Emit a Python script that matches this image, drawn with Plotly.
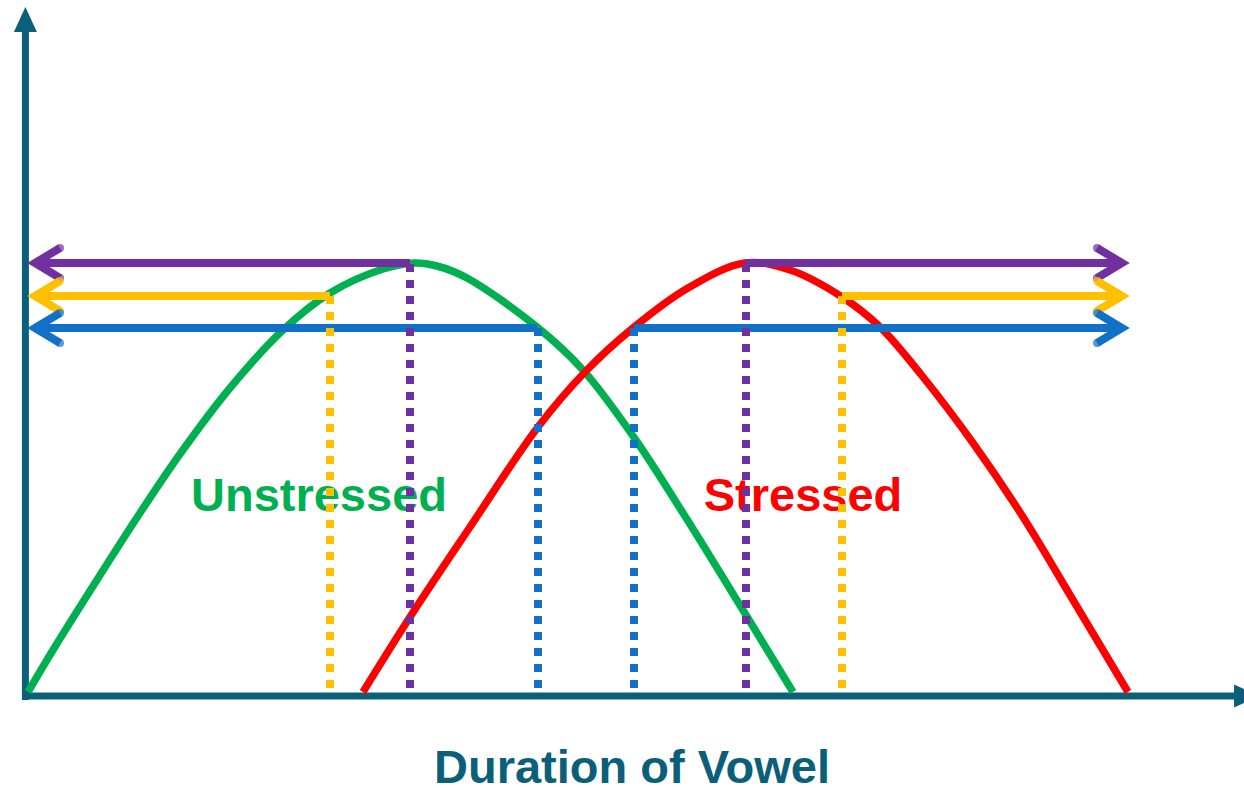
import plotly.graph_objects as go

# Data units read from the picture (1 unit ~ 1 px; x measured from the vertical axis,
# y measured from the curves' baseline)
green_x = [1, 26, 68, 111, 153, 203, 256, 303, 356, 388, 410, 440, 510, 556, 606, 656, 719, 766]
green_y = [0, 42, 109, 176, 238, 304, 362, 399, 423, 429, 426, 414, 365, 322, 256, 179, 77, 0]
red_x = [336, 383, 443, 511, 558, 606, 661, 718, 763, 815, 853, 896, 946, 996, 1046, 1101]
red_y = [0, 75, 165, 265, 320, 364, 404, 429, 422, 395, 365, 315, 249, 175, 92, 0]

arrow_names = ["purple", "yellow", "blue"]
arrow_levels = [429, 396, 364]
left_arrow_start = [383, 303, 510]
right_arrow_start = [718, 815, 607]
dotted_left_x = [383, 303, 511]
dotted_right_x = [719, 815, 607]
left_tip = 8
right_tip = 1095
arrow_colors = ["#7030A0", "#FFC000", "#1170C8"]

labels = ["Unstressed", "Stressed"]
label_x = [292, 776]
label_y = [193, 193]
label_colors = ["#00B050", "#FF0000"]

axis_title = "Duration of Vowel"
axis_color = "#0B6079"

# styling constants
AXIS_LW = 7
CURVE_LW = 7.5
ARROW_LW = 8
CHEV_DX = 25
CHEV_DY = 15
XAXIS_Y = -4
YAXIS_X = -1.6
XAXIS_END = 1208
YAXIS_END = 661
HEAD_LEN = 25
HEAD_HALF = 11.5
DOT_BASE = 4

fig = go.Figure()

# axes
fig.add_trace(go.Scatter(x=[-5, XAXIS_END], y=[XAXIS_Y, XAXIS_Y], mode="lines",
                         line=dict(color=axis_color, width=AXIS_LW), hoverinfo="skip"))
fig.add_trace(go.Scatter(x=[YAXIS_X, YAXIS_X], y=[-8, YAXIS_END], mode="lines",
                         line=dict(color=axis_color, width=AXIS_LW), hoverinfo="skip"))
fig.add_trace(go.Scatter(
    x=[XAXIS_END - 1, XAXIS_END - 1 + HEAD_LEN, XAXIS_END - 1, XAXIS_END - 1],
    y=[XAXIS_Y + HEAD_HALF, XAXIS_Y, XAXIS_Y - HEAD_HALF, XAXIS_Y + HEAD_HALF],
    mode="lines", fill="toself", fillcolor=axis_color, line=dict(color=axis_color, width=0),
    hoverinfo="skip"))
fig.add_trace(go.Scatter(
    x=[YAXIS_X - HEAD_HALF, YAXIS_X, YAXIS_X + HEAD_HALF, YAXIS_X - HEAD_HALF],
    y=[YAXIS_END - 1, YAXIS_END - 1 + HEAD_LEN, YAXIS_END - 1, YAXIS_END - 1],
    mode="lines", fill="toself", fillcolor=axis_color, line=dict(color=axis_color, width=0),
    hoverinfo="skip"))

# curves
fig.add_trace(go.Scatter(x=green_x, y=green_y, mode="lines",
                         line=dict(color="#00B050", width=CURVE_LW, shape="spline", smoothing=1),
                         hoverinfo="skip"))
fig.add_trace(go.Scatter(x=red_x, y=red_y, mode="lines",
                         line=dict(color="#FF0000", width=CURVE_LW, shape="spline", smoothing=1),
                         hoverinfo="skip"))

# labels
for t, lx, ly, c in zip(labels, label_x, label_y, label_colors):
    fig.add_trace(go.Scatter(x=[lx], y=[ly], mode="text", text=["<b>" + t + "</b>"],
                             textposition="middle center",
                             textfont=dict(family="Liberation Sans, Arial", size=47, color=c),
                             hoverinfo="skip"))

# horizontal arrows
for lvl, ls, rs, c in zip(arrow_levels, left_arrow_start, right_arrow_start, arrow_colors):
    # left
    fig.add_trace(go.Scatter(x=[ls, left_tip], y=[lvl, lvl], mode="lines",
                             line=dict(color=c, width=ARROW_LW), hoverinfo="skip"))
    fig.add_trace(go.Scatter(x=[left_tip + CHEV_DX, left_tip, left_tip + CHEV_DX],
                             y=[lvl + CHEV_DY, lvl, lvl - CHEV_DY], mode="lines+markers",
                             line=dict(color=c, width=ARROW_LW),
                             marker=dict(color=c, size=[ARROW_LW, 0, ARROW_LW], line=dict(width=0)),
                             hoverinfo="skip"))
    # right
    fig.add_trace(go.Scatter(x=[rs, right_tip], y=[lvl, lvl], mode="lines",
                             line=dict(color=c, width=ARROW_LW), hoverinfo="skip"))
    fig.add_trace(go.Scatter(x=[right_tip - CHEV_DX, right_tip, right_tip - CHEV_DX],
                             y=[lvl + CHEV_DY, lvl, lvl - CHEV_DY], mode="lines+markers",
                             line=dict(color=c, width=ARROW_LW),
                             marker=dict(color=c, size=[ARROW_LW, 0, ARROW_LW], line=dict(width=0)),
                             hoverinfo="skip"))

# dotted verticals
for lvl, dl, dr, c in zip(arrow_levels, dotted_left_x, dotted_right_x, arrow_colors):
    for dx in (dl, dr):
        fig.add_trace(go.Scatter(x=[dx, dx], y=[DOT_BASE, lvl], mode="lines",
                                 line=dict(color=c, width=8, dash="8px,8px"),
                                 hoverinfo="skip"))

fig.add_annotation(x=605, y=-74, text="<b>" + axis_title + "</b>", showarrow=False,
                   xref="x", yref="y", xanchor="center", yanchor="middle",
                   font=dict(family="Liberation Sans, Arial", size=47, color=axis_color))

fig.update_layout(
    width=1244, height=790, autosize=False,
    margin=dict(l=0, r=0, t=0, b=0, pad=0),
    paper_bgcolor="white", plot_bgcolor="white",
    showlegend=False,
    xaxis=dict(range=[-27, 1217], visible=False, fixedrange=True),
    yaxis=dict(range=[-98, 692], visible=False, fixedrange=True),
)

fig.write_html("out.html", config={"displayModeBar": False},
               post_script="document.body.style.margin='0';document.body.style.overflow='hidden';")
